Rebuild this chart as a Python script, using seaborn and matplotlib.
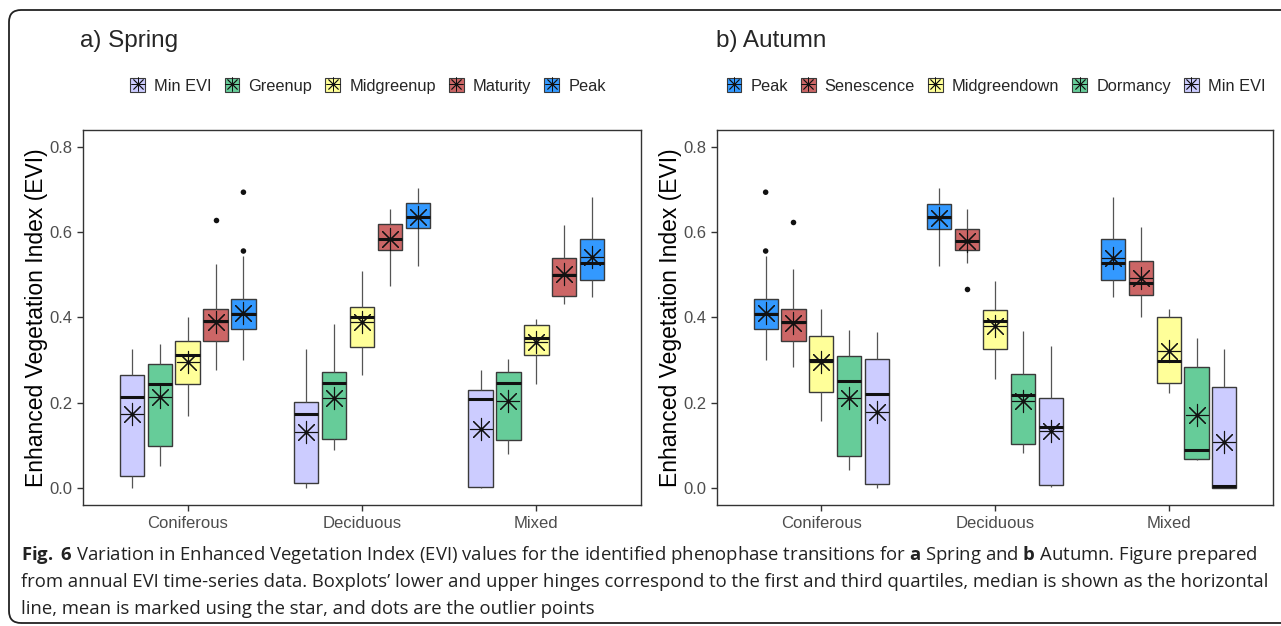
import numpy as np
import pandas as pd
import matplotlib.pyplot as plt
import seaborn as sns
from matplotlib.patches import Patch, FancyBboxPatch
from matplotlib.lines import Line2D

# ---- data ----
forests = ["Coniferous", "Deciduous", "Mixed"]
spring_phases = ["Min EVI", "Greenup", "Midgreenup", "Maturity", "Peak"]
autumn_phases = ["Peak", "Senescence", "Midgreendown", "Dormancy", "Min EVI"]

# five-number summaries per forest: lower whisker, Q1, median, Q3, upper whisker
spring_min_evi = [[0.000, 0.028, 0.214, 0.266, 0.325], [0.000, 0.011, 0.174, 0.202, 0.325], [0.000, 0.002, 0.208, 0.229, 0.276]]
spring_greenup = [[0.051, 0.098, 0.244, 0.291, 0.338], [0.090, 0.115, 0.246, 0.272, 0.385], [0.080, 0.112, 0.247, 0.272, 0.303]]
spring_midgreenup = [[0.169, 0.244, 0.313, 0.344, 0.400], [0.265, 0.331, 0.400, 0.425, 0.508], [0.244, 0.311, 0.352, 0.383, 0.396]]
spring_maturity = [[0.276, 0.344, 0.391, 0.421, 0.525], [0.475, 0.558, 0.585, 0.620, 0.655], [0.432, 0.451, 0.500, 0.539, 0.617]]
spring_peak = [[0.301, 0.373, 0.409, 0.443, 0.544], [0.522, 0.609, 0.636, 0.668, 0.703], [0.448, 0.489, 0.527, 0.584, 0.682]]

autumn_peak = [[0.301, 0.373, 0.409, 0.443, 0.544], [0.522, 0.608, 0.636, 0.667, 0.703], [0.448, 0.489, 0.527, 0.584, 0.682]]
autumn_senescence = [[0.284, 0.344, 0.389, 0.421, 0.514], [0.528, 0.558, 0.580, 0.607, 0.655], [0.402, 0.452, 0.482, 0.532, 0.613]]
autumn_midgreendown = [[0.156, 0.226, 0.300, 0.357, 0.420], [0.255, 0.327, 0.392, 0.417, 0.485], [0.224, 0.246, 0.299, 0.401, 0.421]]
autumn_dormancy = [[0.043, 0.076, 0.250, 0.310, 0.370], [0.082, 0.103, 0.219, 0.268, 0.368], [0.065, 0.069, 0.088, 0.285, 0.351]]
autumn_min_evi = [[0.000, 0.009, 0.221, 0.302, 0.366], [0.002, 0.006, 0.143, 0.212, 0.334], [0.000, 0.000, 0.004, 0.236, 0.325]]

# means (star) per forest
spring_means = {
    "Min EVI": [0.174, 0.132, 0.138],
    "Greenup": [0.213, 0.212, 0.203],
    "Midgreenup": [0.295, 0.389, 0.343],
    "Maturity": [0.389, 0.585, 0.502],
    "Peak": [0.411, 0.635, 0.541],
}
autumn_means = {
    "Peak": [0.411, 0.634, 0.539],
    "Senescence": [0.386, 0.580, 0.492],
    "Midgreendown": [0.295, 0.379, 0.322],
    "Dormancy": [0.210, 0.203, 0.171],
    "Min EVI": [0.179, 0.133, 0.109],
}

# outlier dots: (forest, phase, value)
spring_outliers = [("Coniferous", "Maturity", 0.629), ("Coniferous", "Peak", 0.694), ("Coniferous", "Peak", 0.556)]
autumn_outliers = [("Coniferous", "Peak", 0.694), ("Coniferous", "Peak", 0.556),
                   ("Coniferous", "Senescence", 0.623), ("Deciduous", "Senescence", 0.468)]

phase_colors = {
    "Min EVI": "#CCCCFF", "Greenup": "#66CC99", "Midgreenup": "#FFFF99",
    "Maturity": "#CC6666", "Peak": "#3399FF",
    "Senescence": "#CC6666", "Midgreendown": "#FFFF99", "Dormancy": "#66CC99",
}

sns.set_style("white")
plt.rcParams["font.family"] = ["Liberation Sans", "DejaVu Sans"]
plt.rcParams["mathtext.fontset"] = "custom"
plt.rcParams["mathtext.rm"] = "Open Sans"
plt.rcParams["mathtext.bf"] = "Open Sans:bold"

W, H = 1281, 626
fig = plt.figure(figsize=(W / 100, H / 100), dpi=100)
ax1 = fig.add_axes([83 / W, 1 - 505 / H, (641 - 83) / W, (505 - 130) / H])
ax2 = fig.add_axes([717 / W, 1 - 505 / H, (1273 - 717) / W, (505 - 130) / H])


def long_table(phases, summaries):
    rows = []
    for phase, summ in zip(phases, summaries):
        for forest, five in zip(forests, summ):
            for v in five:
                rows.append((forest, phase, v))
    return pd.DataFrame(rows, columns=["forest", "phase", "evi"])


def draw_panel(ax, phases, summaries, means, outliers):
    df = long_table(phases, summaries)
    pal = [phase_colors[p] for p in phases]
    sns.boxplot(data=df, x="forest", y="evi", hue="phase", order=forests, hue_order=phases,
                palette=pal, saturation=1, width=0.8, gap=0.13, whis=(0, 100), showfliers=False,
                linecolor="#3a3a3a", linewidth=1.0, legend=False, ax=ax,
                medianprops=dict(color="#111111", linewidth=2.2),
                whiskerprops=dict(color="#555555", linewidth=0.9),
                capprops=dict(linewidth=0))

    mdf = pd.DataFrame([(f, p, m) for p in phases for f, m in zip(forests, means[p])],
                       columns=["forest", "phase", "evi"])
    black = ["#111111"] * len(phases)
    sns.stripplot(data=mdf, x="forest", y="evi", hue="phase", order=forests, hue_order=phases,
                  palette=black, dodge=True, jitter=False, marker=(8, 2, 0), s=16,
                  linewidth=0.8, legend=False, ax=ax, zorder=5)
    sns.stripplot(data=mdf, x="forest", y="evi", hue="phase", order=forests, hue_order=phases,
                  palette=black, dodge=True, jitter=False, marker="o", s=2.5,
                  legend=False, ax=ax, zorder=6)

    odf = pd.DataFrame(outliers, columns=["forest", "phase", "evi"])
    sns.stripplot(data=odf, x="forest", y="evi", hue="phase", order=forests, hue_order=phases,
                  palette=black, dodge=True, jitter=False, marker="o", s=4,
                  legend=False, ax=ax, zorder=6)

    ax.set_xlim(-0.6, 2.6)
    ax.set_ylim(-0.04, 0.84)
    ax.set_yticks([0.0, 0.2, 0.4, 0.6, 0.8])
    ax.set_yticklabels(["0.0", "0.2", "0.4", "0.6", "0.8"])
    ax.set_xlabel("")
    ax.set_ylabel("Enhanced Vegetation Index (EVI)", fontsize=16.5, color="black", labelpad=1)
    ax.tick_params(axis="both", which="both", direction="out", length=4, width=1.0,
                   color="#333333", labelcolor="#4D4D4D", labelsize=12, left=True, bottom=True)
    ax.tick_params(axis="x", pad=4)
    for sp in ax.spines.values():
        sp.set_visible(True)
        sp.set_color("#333333")
        sp.set_linewidth(1.0)

    handles = [(Patch(facecolor=phase_colors[p], edgecolor="#3a3a3a", linewidth=0.8),
                Line2D([], [], marker=(8, 2, 0), color="#111111", ls="", ms=10, mew=0.6))
               for p in phases]
    return handles


h1 = draw_panel(ax1, spring_phases, [spring_min_evi, spring_greenup, spring_midgreenup,
                                     spring_maturity, spring_peak], spring_means, spring_outliers)
h2 = draw_panel(ax2, autumn_phases, [autumn_peak, autumn_senescence, autumn_midgreendown,
                                     autumn_dormancy, autumn_min_evi], autumn_means, autumn_outliers)

fig.text(80 / W, 1 - 41 / H, "a) Spring", fontsize=17.5, va="center", ha="left")
fig.text(716 / W, 1 - 41 / H, "b) Autumn", fontsize=17.5, va="center", ha="left")

leg_kw = dict(loc="center", ncol=5, frameon=False, fontsize=11.8, handlelength=0.9, handleheight=0.9,
              handletextpad=0.55, columnspacing=0.8, borderpad=0)
fig.legend(h1, spring_phases, bbox_to_anchor=(368 / W, 1 - 86 / H), **leg_kw)
fig.legend(h2, autumn_phases, bbox_to_anchor=(996 / W, 1 - 86 / H), **leg_kw)

caption = [
    r"$\bf{Fig.}$ $\bf{6}$ Variation in Enhanced Vegetation Index (EVI) values for the identified phenophase transitions for $\bf{a}$ Spring and $\bf{b}$ Autumn. Figure prepared",
    "from annual EVI time-series data. Boxplots\u2019 lower and upper hinges correspond to the first and third quartiles, median is shown as the horizontal",
    "line, mean is marked using the star, and dots are the outlier points",
]
for i, line in enumerate(caption):
    fig.text(21 / W, 1 - (555 + 27 * i) / H, line, fontsize=13.3, va="center", ha="left",
             family=["Open Sans", "DejaVu Sans"], color="#222222")

frame = FancyBboxPatch((9, 3), 1300, 613, boxstyle="round,pad=0,rounding_size=12",
                       transform=None, fill=False, linewidth=1.3, edgecolor="#222222")
fig.patches.append(frame)

fig.savefig("out.png", dpi=100)
